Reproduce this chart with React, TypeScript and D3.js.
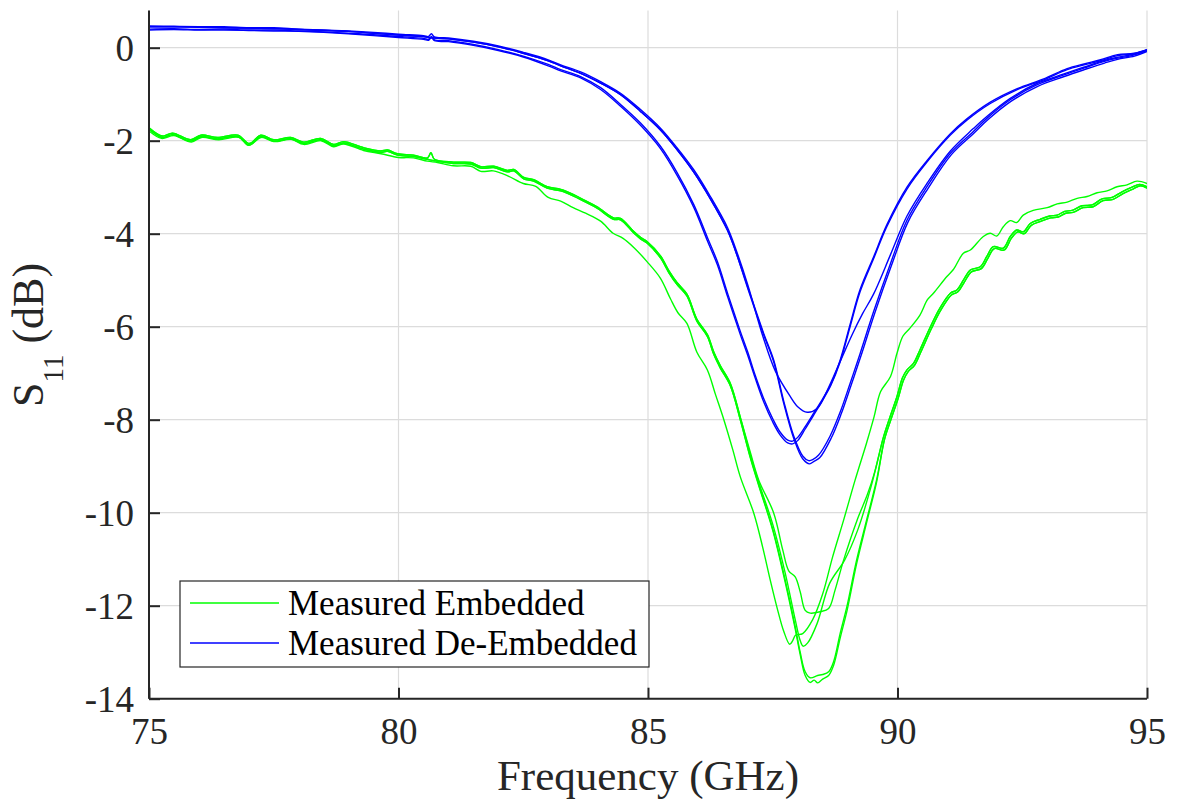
import { useEffect, useRef } from 'react';
import * as d3 from 'd3';

type Pt = [number, number];

const xTicks = [75, 80, 85, 90, 95];
const yTicks = [-14, -12, -10, -8, -6, -4, -2, 0];

// Measured Embedded (green) - shared flanks of the main bundle
const greenBundleLeftA: Pt[] = [
  [75, -1.72], [75.27, -1.9], [75.47, -1.84], [75.84, -1.98], [76.04, -1.88], [76.37, -1.93],
  [76.78, -1.88], [77.01, -2.06], [77.24, -1.88], [77.5, -1.98], [77.84, -1.93], [78.1, -2.03],
  [78.44, -1.95], [78.7, -2.08], [78.9, -2.02], [79.3, -2.15], [79.64, -2.22], [79.78, -2.2],
  [79.98, -2.28], [80.3, -2.31], [80.58, -2.37], [80.65, -2.26], [80.72, -2.4], [81.1, -2.46],
  [81.45, -2.47], [81.65, -2.56], [81.91, -2.55], [82.18, -2.64], [82.31, -2.62], [82.51, -2.79],
  [82.71, -2.84], [82.98, -2.99], [83.25, -3.05], [83.51, -3.16], [83.71, -3.27], [83.98, -3.42],
  [84.31, -3.66], [84.45, -3.67], [84.71, -3.95], [84.85, -4.08], [84.98, -4.17], [85.25, -4.48],
  [85.42, -4.8], [85.58, -5.05], [85.78, -5.3], [85.98, -5.84], [86.19, -6.17], [86.32, -6.55],
  [86.45, -6.84], [86.65, -7.22], [86.85, -7.95],
];
const greenBundleLeftB: Pt[] = [
  [75, -1.75], [75.27, -1.93], [75.47, -1.87], [75.84, -2.01], [76.04, -1.91], [76.37, -1.96],
  [76.78, -1.91], [77.01, -2.09], [77.24, -1.91], [77.5, -2.01], [77.84, -1.96], [78.1, -2.06],
  [78.44, -1.98], [78.7, -2.11], [78.9, -2.05], [79.3, -2.18], [79.64, -2.25], [79.78, -2.23],
  [79.98, -2.31], [80.3, -2.34], [80.58, -2.4], [80.72, -2.43], [81.1, -2.49],
  [81.45, -2.5], [81.65, -2.59], [81.91, -2.58], [82.18, -2.67], [82.31, -2.65], [82.51, -2.82],
  [82.71, -2.87], [82.98, -3.02], [83.25, -3.08], [83.51, -3.19], [83.71, -3.3], [83.98, -3.45],
  [84.31, -3.69], [84.45, -3.7], [84.71, -3.98], [84.85, -4.11], [84.98, -4.2], [85.25, -4.52],
  [85.42, -4.84], [85.58, -5.09], [85.78, -5.34], [85.98, -5.88], [86.19, -6.21], [86.32, -6.6],
  [86.45, -6.89], [86.65, -7.27], [86.85, -8.0],
];
const greenBundleRightA: Pt[] = [
  [89.72, -8.37], [89.85, -7.94], [89.99, -7.5], [90.1, -7.1], [90.19, -6.93], [90.32, -6.79],
  [90.45, -6.5], [90.66, -6.0], [90.85, -5.6], [91.06, -5.28], [91.19, -5.21], [91.32, -5.0],
  [91.46, -4.78], [91.66, -4.71], [91.79, -4.49], [91.92, -4.28], [92.12, -4.31], [92.26, -4.06],
  [92.39, -3.92], [92.52, -3.96], [92.66, -3.78], [92.86, -3.69], [93.05, -3.62], [93.2, -3.6],
  [93.35, -3.52], [93.5, -3.5], [93.7, -3.4], [93.9, -3.38], [94.1, -3.25], [94.3, -3.22],
  [94.5, -3.1], [94.7, -3.0], [94.85, -2.94], [95, -2.99],
];
const greenBundleRightB: Pt[] = [
  [89.74, -8.42], [89.87, -7.99], [90.01, -7.55], [90.12, -7.15], [90.21, -6.97], [90.34, -6.83],
  [90.47, -6.54], [90.68, -6.04], [90.87, -5.64], [91.08, -5.32], [91.21, -5.25], [91.34, -5.04],
  [91.48, -4.82], [91.68, -4.75], [91.81, -4.53], [91.94, -4.32], [92.14, -4.35], [92.28, -4.1],
  [92.41, -3.96], [92.54, -4.0], [92.68, -3.82], [92.88, -3.73], [93.07, -3.66], [93.22, -3.64],
  [93.37, -3.56], [93.52, -3.54], [93.72, -3.44], [93.92, -3.42], [94.12, -3.29], [94.32, -3.26],
  [94.52, -3.14], [94.72, -3.04], [94.87, -2.97], [95, -3.02],
];

// Measured Embedded (green) - individual dips
const embeddedEarly: Pt[] = [
  [75, -1.79], [75.25, -1.95], [75.5, -1.89], [75.85, -2.03], [76.05, -1.93], [76.4, -1.98],
  [76.8, -1.93], [77.0, -2.1], [77.25, -1.93], [77.5, -2.02], [77.85, -1.97], [78.1, -2.08],
  [78.45, -2.0], [78.7, -2.13], [78.9, -2.07], [79.3, -2.21], [79.65, -2.28], [80.0, -2.36],
  [80.3, -2.37], [80.58, -2.44], [80.78, -2.47], [81.1, -2.54], [81.45, -2.55], [81.65, -2.66],
  [81.9, -2.65], [82.2, -2.76], [82.5, -2.92], [82.75, -2.98], [83.0, -3.22], [83.25, -3.3],
  [83.5, -3.44], [83.75, -3.56], [84.05, -3.73], [84.3, -3.99], [84.5, -4.1], [84.72, -4.3],
  [84.98, -4.6], [85.25, -4.96], [85.45, -5.4], [85.6, -5.7], [85.78, -5.93], [85.98, -6.55],
  [86.19, -6.93], [86.35, -7.45], [86.52, -8.0], [86.7, -8.65], [86.85, -9.23], [87.12, -10.01],
  [87.3, -10.75], [87.45, -11.45], [87.6, -12.1], [87.72, -12.55], [87.84, -12.83], [87.9, -12.75],
  [87.96, -12.63], [88.1, -12.6], [88.3, -12.3], [88.5, -11.75], [88.7, -10.95], [88.92, -10.16],
  [89.15, -9.3], [89.38, -8.5], [89.53, -7.94], [89.66, -7.4], [89.86, -7.07], [89.99, -6.57],
  [90.11, -6.2], [90.25, -6.03], [90.45, -5.75], [90.6, -5.42], [90.72, -5.28], [90.99, -4.92],
  [91.12, -4.77], [91.32, -4.42], [91.46, -4.35], [91.72, -4.06], [91.86, -3.99], [91.99, -4.05],
  [92.12, -3.85], [92.26, -3.72], [92.39, -3.76], [92.52, -3.6], [92.72, -3.5], [93.0, -3.44],
  [93.2, -3.36], [93.4, -3.32], [93.6, -3.24], [93.8, -3.2], [94.0, -3.12], [94.2, -3.08],
  [94.4, -2.99], [94.6, -2.95], [94.8, -2.87], [95, -2.92],
];
const dipFlat: Pt[] = [
  [87.05, -8.7], [87.22, -9.3], [87.52, -10.01], [87.7, -10.8], [87.82, -11.25], [87.95, -11.38],
  [88.05, -11.7], [88.15, -12.1], [88.25, -12.16], [88.45, -12.13], [88.62, -12.06], [88.75, -11.66],
  [88.92, -11.02], [89.19, -10.16], [89.4, -9.6], [89.55, -9.1],
];
const dipMid: Pt[] = [
  [87.05, -8.75], [87.22, -9.35], [87.5, -10.25], [87.75, -11.3], [87.95, -12.3], [88.05, -12.75],
  [88.11, -12.87], [88.2, -12.8], [88.39, -12.38], [88.64, -11.52], [88.94, -11.02], [89.2, -10.38],
  [89.47, -9.44],
];
const dipDeepA: Pt[] = [
  [87.05, -8.8], [87.22, -9.4], [87.5, -10.35], [87.75, -11.45], [87.95, -12.45], [88.05, -13.0],
  [88.15, -13.42], [88.25, -13.55], [88.4, -13.5], [88.5, -13.48], [88.62, -13.42], [88.72, -13.2],
  [88.85, -12.6], [88.99, -12.0], [89.18, -11.02], [89.38, -10.16], [89.58, -9.3],
];
const dipDeepB: Pt[] = [
  [87.05, -8.82], [87.22, -9.42], [87.5, -10.38], [87.75, -11.5], [87.95, -12.5], [88.05, -13.05],
  [88.15, -13.5], [88.25, -13.65], [88.33, -13.6], [88.4, -13.66], [88.5, -13.58], [88.62, -13.5],
  [88.72, -13.28], [88.85, -12.7], [88.99, -12.1], [89.18, -11.1], [89.38, -10.22], [89.58, -9.35],
];

// Measured De-Embedded (blue)
const deEmbeddedEarlyA: Pt[] = [
  [75, 0.4], [75.5, 0.41], [76, 0.39], [76.5, 0.4], [77, 0.38], [77.5, 0.38], [78, 0.36], [78.5, 0.34],
  [79, 0.31], [79.5, 0.28], [80, 0.24], [80.5, 0.2], [80.6, 0.18], [80.66, 0.24], [80.72, 0.17],
  [81, 0.15], [81.5, 0.07], [82, -0.04], [82.5, -0.18], [83, -0.36], [83.25, -0.47], [83.65, -0.62],
  [84.05, -0.86], [84.45, -1.22], [84.85, -1.62], [85.25, -2.12], [85.58, -2.68], [85.92, -3.38],
  [86.19, -4.08], [86.39, -4.6], [86.6, -5.3], [86.85, -6.1], [87.0, -6.55], [87.15, -7.05],
  [87.32, -7.55], [87.5, -7.98], [87.65, -8.27], [87.8, -8.44], [87.9, -8.46], [88.0, -8.38],
  [88.15, -8.15], [88.32, -7.86], [88.5, -7.55], [88.66, -7.25], [88.85, -6.72], [89.05, -5.95],
  [89.25, -5.2], [89.52, -4.5], [89.79, -3.8], [90.19, -3.0], [90.59, -2.43], [91.06, -1.85],
  [91.39, -1.53], [91.86, -1.17], [92.4, -0.88], [92.93, -0.67], [93.4, -0.45], [93.74, -0.35],
  [94.07, -0.26], [94.41, -0.15], [94.74, -0.12], [95, -0.04],
];
const deEmbeddedEarlyB: Pt[] = [
  [75, 0.38], [75.5, 0.39], [76, 0.38], [76.5, 0.38], [77, 0.37], [77.5, 0.36], [78, 0.35], [78.5, 0.33],
  [79, 0.3], [79.5, 0.26], [80, 0.22], [80.5, 0.18], [80.6, 0.16], [80.66, 0.22], [80.72, 0.15],
  [81, 0.13], [81.5, 0.05], [82, -0.06], [82.5, -0.2], [83, -0.39], [83.25, -0.5], [83.65, -0.65],
  [84.05, -0.9], [84.45, -1.26], [84.85, -1.67], [85.25, -2.17], [85.58, -2.74], [85.92, -3.44],
  [86.19, -4.15], [86.39, -4.67], [86.6, -5.37], [86.85, -6.17], [87.0, -6.62], [87.15, -7.11],
  [87.32, -7.62], [87.5, -8.05], [87.65, -8.33], [87.8, -8.5], [87.9, -8.52], [88.0, -8.45],
  [88.15, -8.2], [88.32, -7.9], [88.5, -7.58], [88.66, -7.27], [88.85, -6.76], [89.05, -6.0],
  [89.25, -5.25], [89.52, -4.54], [89.79, -3.84], [90.19, -3.04], [90.59, -2.46], [91.06, -1.88],
  [91.39, -1.56], [91.86, -1.2], [92.4, -0.9], [92.93, -0.69], [93.4, -0.47], [93.74, -0.37],
  [94.07, -0.28], [94.41, -0.17], [94.74, -0.13], [95, -0.05],
];
const blueLateLeftA: Pt[] = [
  [75, 0.47], [75.5, 0.46], [76, 0.45], [76.5, 0.45], [77, 0.43], [77.5, 0.43], [78, 0.4], [78.5, 0.38],
  [79, 0.36], [79.5, 0.33], [80, 0.29], [80.5, 0.26], [80.6, 0.24], [80.66, 0.3], [80.72, 0.23],
  [81, 0.21], [81.5, 0.14], [82, 0.04], [82.5, -0.1], [83, -0.26], [83.25, -0.37], [83.65, -0.52],
  [84.05, -0.73], [84.45, -0.98], [84.85, -1.33], [85.25, -1.73], [85.58, -2.15], [85.92, -2.63],
  [86.25, -3.2], [86.59, -3.86], [86.75, -4.3],
];
const blueLateLeftB: Pt[] = [
  [75, 0.45], [75.5, 0.45], [76, 0.44], [76.5, 0.43], [77, 0.42], [77.5, 0.41], [78, 0.39], [78.5, 0.37],
  [79, 0.35], [79.5, 0.31], [80, 0.27], [80.5, 0.24], [80.6, 0.22], [80.72, 0.21],
  [81, 0.19], [81.5, 0.12], [82, 0.02], [82.5, -0.12], [83, -0.28], [83.25, -0.39], [83.65, -0.55],
  [84.05, -0.76], [84.45, -1.01], [84.85, -1.37], [85.25, -1.77], [85.58, -2.19], [85.92, -2.68],
  [86.25, -3.25], [86.59, -3.92], [86.75, -4.36],
];
const blueDipShallow: Pt[] = [
  [87.0, -5.1], [87.3, -6.2], [87.55, -6.95], [87.85, -7.5], [88.0, -7.72], [88.19, -7.84],
  [88.39, -7.76], [88.6, -7.35], [88.85, -6.75], [89.1, -6.15], [89.3, -5.72], [89.52, -5.3],
  [89.86, -4.45], [90.19, -3.62], [90.59, -2.92], [91.06, -2.22], [91.52, -1.74], [91.79, -1.48],
  [92.26, -1.09], [92.79, -0.77], [93.32, -0.57], [93.73, -0.42], [94.13, -0.28], [94.39, -0.21],
  [94.73, -0.14], [95, -0.05],
];
const blueDipDeepA: Pt[] = [
  [87.0, -5.15], [87.32, -6.15], [87.52, -6.72], [87.72, -7.6], [87.92, -8.35], [88.1, -8.78],
  [88.22, -8.88], [88.3, -8.86], [88.42, -8.76], [88.65, -8.35], [88.85, -7.84], [89.05, -7.22],
  [89.25, -6.58], [89.52, -5.68], [89.86, -4.64], [90.19, -3.71], [90.59, -2.99], [91.06, -2.27],
  [91.52, -1.8], [91.79, -1.52], [92.26, -1.12], [92.79, -0.8], [93.32, -0.59], [93.73, -0.44],
  [94.13, -0.3], [94.39, -0.23], [94.73, -0.16], [95, -0.06],
];
const blueDipDeepB: Pt[] = [
  [87.0, -5.18], [87.32, -6.18], [87.52, -6.76], [87.72, -7.65], [87.92, -8.4], [88.1, -8.84],
  [88.24, -8.95], [88.32, -8.9], [88.44, -8.82], [88.67, -8.4], [88.87, -7.88], [89.07, -7.26],
  [89.27, -6.62], [89.54, -5.72], [89.88, -4.68], [90.21, -3.75], [90.61, -3.03], [91.08, -2.3],
  [91.54, -1.83], [91.81, -1.55], [92.28, -1.15], [92.81, -0.83], [93.34, -0.62], [93.75, -0.47],
  [94.15, -0.33], [94.41, -0.25], [94.75, -0.18], [95, -0.08],
];

const embeddedSeries: Pt[][] = [
  embeddedEarly,
  [...greenBundleLeftA, ...dipFlat, ...greenBundleRightA],
  [...greenBundleLeftA, ...dipMid, ...greenBundleRightA],
  [...greenBundleLeftB, ...dipDeepA, ...greenBundleRightB],
  [...greenBundleLeftB, ...dipDeepB, ...greenBundleRightB],
];
const deEmbeddedSeries: Pt[][] = [
  deEmbeddedEarlyA,
  deEmbeddedEarlyB,
  [...blueLateLeftA, ...blueDipShallow],
  [...blueLateLeftB, ...blueDipDeepA],
  [...blueLateLeftB, ...blueDipDeepB],
];

const legendItems = [
  { label: 'Measured Embedded', color: '#00ff00' },
  { label: 'Measured De-Embedded', color: '#0000ff' },
];

const W = 1177;
const H = 803;
const FONT = '"Liberation Serif", "Times New Roman", serif';
const INK = '#262626';

export default function App() {
  const ref = useRef<SVGSVGElement>(null);

  useEffect(() => {
    const svg = d3.select(ref.current);
    svg.selectAll('*').remove();

    const left = 149;
    const right = 1147;
    const top = 10.5;
    const bottom = 698.7;

    const x = d3.scaleLinear().domain([75, 95]).range([left, right]);
    const y = d3.scaleLinear().domain([-14, 0.8]).range([bottom, top]);

    svg.append('rect').attr('width', W).attr('height', H).attr('fill', '#fff');

    // grid
    const grid = svg.append('g').attr('stroke', '#dcdcdc').attr('stroke-width', 1.2);
    xTicks.forEach((t) => {
      grid.append('line').attr('x1', x(t)).attr('x2', x(t)).attr('y1', top).attr('y2', bottom);
    });
    yTicks.forEach((t) => {
      grid.append('line').attr('x1', left).attr('x2', right).attr('y1', y(t)).attr('y2', y(t));
    });

    svg
      .append('clipPath')
      .attr('id', 'plot-clip')
      .append('rect')
      .attr('x', left)
      .attr('y', top)
      .attr('width', right - left)
      .attr('height', bottom - top);

    const line = d3
      .line<Pt>()
      .x((d) => x(d[0]))
      .y((d) => y(d[1]))
      .curve(d3.curveCatmullRom.alpha(0.5));

    const curves = svg.append('g').attr('clip-path', 'url(#plot-clip)').attr('fill', 'none');
    embeddedSeries.forEach((s) => {
      curves.append('path').attr('d', line(s)).attr('stroke', '#00ff00').attr('stroke-width', 1.4);
    });
    deEmbeddedSeries.forEach((s) => {
      curves.append('path').attr('d', line(s)).attr('stroke', '#0000ff').attr('stroke-width', 1.4);
    });

    // axes (left + bottom only, ticks inward)
    const fmt = (d: d3.NumberValue) => String(d);
    const axisX = svg
      .append('g')
      .attr('transform', `translate(0,${bottom})`)
      .call(
        d3.axisBottom(x).tickValues(xTicks).tickFormat(fmt).tickSizeInner(-11).tickSizeOuter(0)
      );
    const axisY = svg
      .append('g')
      .attr('transform', `translate(${left},0)`)
      .call(
        d3.axisLeft(y).tickValues(yTicks).tickFormat(fmt).tickSizeInner(-11).tickSizeOuter(0)
      );

    [axisX, axisY].forEach((a) => {
      a.attr('font-family', null).attr('font-size', null);
      a.select('.domain').attr('stroke', INK).attr('stroke-width', 2);
      a.selectAll('.tick line').attr('stroke', INK).attr('stroke-width', 2);
      a.selectAll('.tick text')
        .attr('fill', INK)
        .style('font-family', FONT)
        .style('font-size', '37px');
    });
    axisX.select('.domain').attr('d', `M${left},0H${right}`);
    axisY.select('.domain').attr('d', `M0,${bottom}V${top}`);
    axisX.selectAll('.tick text').attr('dy', null).attr('y', 45);
    axisY.selectAll('.tick text').attr('dy', null).attr('y', 12.5).attr('x', -15);

    // axis labels
    svg
      .append('text')
      .attr('x', (left + right) / 2)
      .attr('y', 790)
      .attr('text-anchor', 'middle')
      .attr('fill', INK)
      .style('font-family', FONT)
      .style('font-size', '43px')
      .text('Frequency (GHz)');

    const yl = svg
      .append('text')
      .attr('transform', 'translate(43,335) rotate(-90)')
      .attr('text-anchor', 'middle')
      .attr('fill', INK)
      .style('font-family', FONT)
      .style('font-size', '44px');
    yl.append('tspan').text('S');
    yl.append('tspan').attr('dy', 20).style('font-size', '29px').text('11');
    yl.append('tspan').attr('dy', -20).text(' (dB)');

    // legend
    const lg = svg.append('g');
    lg.append('rect')
      .attr('x', 180)
      .attr('y', 581)
      .attr('width', 469)
      .attr('height', 86)
      .attr('fill', '#fff')
      .attr('stroke', INK)
      .attr('stroke-width', 1.2);
    legendItems.forEach((item, i) => {
      const cy = 603 + i * 40;
      lg.append('line')
        .attr('x1', 190)
        .attr('x2', 279)
        .attr('y1', cy)
        .attr('y2', cy)
        .attr('stroke', item.color)
        .attr('stroke-width', 1.4);
      lg.append('text')
        .attr('x', 288)
        .attr('y', cy + 12)
        .attr('fill', '#000')
        .style('font-family', FONT)
        .style('font-size', '35px')
        .text(item.label);
    });
  }, []);

  return (
    <svg
      ref={ref}
      width={W}
      height={H}
      style={{ position: 'absolute', left: 0, top: 0, display: 'block' }}
    />
  );
}
